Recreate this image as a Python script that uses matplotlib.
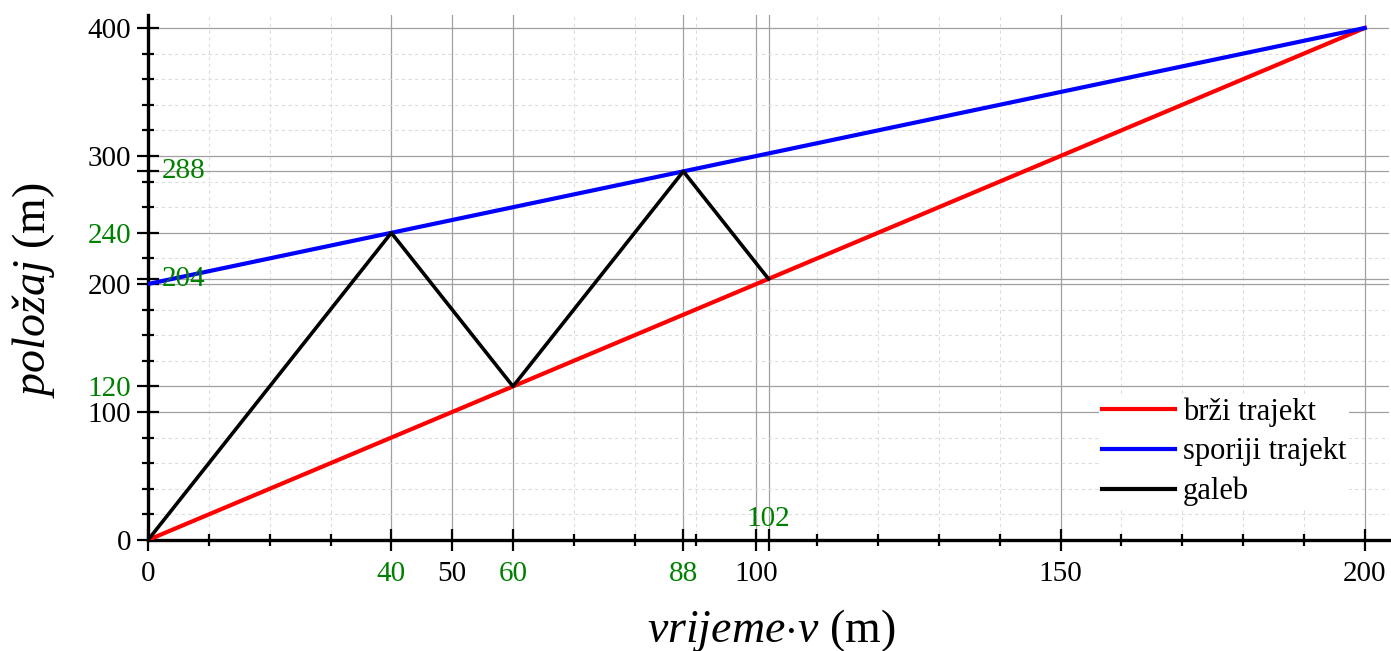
import matplotlib
matplotlib.use("Agg")
import matplotlib.pyplot as plt
from matplotlib.ticker import MultipleLocator, FixedLocator

# trajectories: position (m) against time*v (m)
t_brzi = [0, 200]
s_brzi = [0, 400]
t_sporiji = [0, 200]
s_sporiji = [200, 400]
t_galeb = [0, 40, 60, 88, 102]
s_galeb = [0, 240, 120, 288, 204]

x_major = [0, 50, 100, 150, 200]
y_major = [0, 100, 200, 300, 400]
x_marked = [40, 60, 88, 102]
y_marked = [120, 204, 240, 288]

legend_labels = ["brži trajekt", "sporiji trajekt", "galeb"]

GREEN = "#008000"

plt.rcParams["font.family"] = ["Liberation Serif", "DejaVu Serif"]
plt.rcParams["mathtext.fontset"] = "custom"
plt.rcParams["mathtext.rm"] = "Liberation Serif"
plt.rcParams["mathtext.it"] = "Liberation Serif:italic"

fig = plt.figure(figsize=(13.91, 6.51), dpi=100)
ax = fig.add_axes([148 / 1391, 111 / 651, 1241 / 1391, 524.8 / 651])

ax.plot(t_brzi, s_brzi, color="red", lw=3, label=legend_labels[0], zorder=3)
ax.plot(t_sporiji, s_sporiji, color="blue", lw=3, label=legend_labels[1], zorder=3)
ax.plot(t_galeb, s_galeb, color="black", lw=2.6, label=legend_labels[2], zorder=4)

ax.set_xlim(0, 204)
ax.set_ylim(0, 410)

for side in ["top", "right"]:
    ax.spines[side].set_visible(False)
for side in ["left", "bottom"]:
    ax.spines[side].set_linewidth(2.4)

# major ticks include the marked points
xt = sorted(x_major + x_marked)
yt = sorted(y_major + y_marked)
ax.xaxis.set_major_locator(FixedLocator(xt))
ax.yaxis.set_major_locator(FixedLocator(yt))
ax.xaxis.set_minor_locator(MultipleLocator(10))
ax.yaxis.set_minor_locator(MultipleLocator(20))

ax.set_xticklabels(["" if v == 102 else str(v) for v in xt])
ax.set_yticklabels(["" if v in (204, 288) else str(v) for v in yt])

ax.tick_params(which="major", direction="inout", length=16, width=1.6,
               labelsize=21)
ax.tick_params(axis="x", which="major", pad=7)
ax.tick_params(axis="y", which="major", pad=4)
ax.tick_params(which="minor", direction="inout", length=8.5, width=1.6)

for tick, v in zip(ax.xaxis.get_major_ticks(), xt):
    if v in x_marked:
        tick.tick1line.set_color(GREEN)
        tick.label1.set_color(GREEN)
for tick, v in zip(ax.yaxis.get_major_ticks(), yt):
    if v in y_marked:
        tick.tick1line.set_color(GREEN)
        tick.label1.set_color(GREEN)

# labels drawn inside the axes where the space is taken
ax.annotate("102", xy=(102, 0), xytext=(0, 10), textcoords="offset points",
            ha="center", va="baseline", fontsize=21, color=GREEN)
for v in (204, 288):
    ax.annotate(str(v), xy=(0, v), xytext=(10, 0), textcoords="offset points",
                ha="left", va="center", fontsize=21, color=GREEN)

ax.set_axisbelow(True)
ax.grid(which="major", color="#a0a0a0", lw=0.9)
ax.grid(which="minor", color="#dcdcdc", lw=0.8, ls=(0, (3, 3)))

ax.set_xlabel(r"$vrijeme{\cdot}v$ (m)", fontsize=33)
ax.set_ylabel(r"$položaj$ (m)", fontsize=33)
ax.xaxis.set_label_coords(0.502, -0.127)
ax.yaxis.set_label_coords(-0.073, 0.475)

leg = ax.legend(loc="upper left", bbox_to_anchor=(1099 / 1391, 1 - 394 / 651),
                bbox_transform=fig.transFigure, fontsize=22, handlelength=2.4,
                handletextpad=0.25, labelspacing=0.35, borderpad=0.1,
                borderaxespad=0, frameon=True, fancybox=False,
                framealpha=1, facecolor="white", edgecolor="none")
for line in leg.get_lines():
    line.set_linewidth(3)

fig.savefig("out.png", dpi=100)
